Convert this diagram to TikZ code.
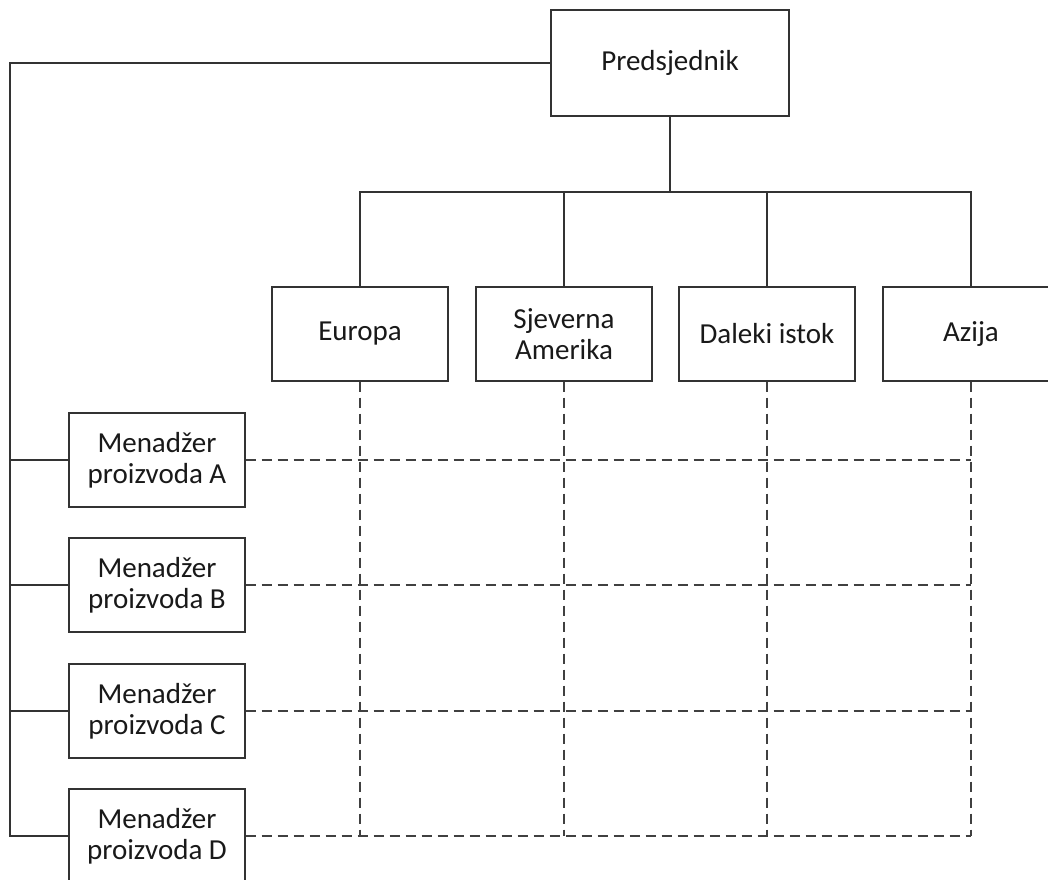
\documentclass[tikz,border=0pt]{standalone}
\usepackage{fontspec}
\setmainfont{Carlito}
\begin{document}
\begin{tikzpicture}[x=1pt,y=-1pt,
  box/.style={draw=black!80,line width=1.3pt,fill=white,rectangle,inner sep=0pt,
    align=center,font=\fontsize{29}{31}\selectfont,text=black!90},
  cbox/.style={box,minimum width=176pt,minimum height=94pt},
  solidline/.style={draw=black!80,line width=1.3pt},
  dashline/.style={draw=black!75,line width=1.5pt,dash pattern=on 10pt off 6pt}]
\useasboundingbox (0,0) rectangle (1048,879);
\clip (0,0) rectangle (1048,879);
% coordinates
\coordinate (ltop) at (10,63);
\coordinate (lbot) at (10,836);
\coordinate (bus) at (670,192);
% nodes
\node[box,minimum width=238pt,minimum height=106pt] (pres) at (670,63) {Predsjednik};
\node[cbox] (eu) at (360,334) {Europa};
\node[cbox] (sa) at (564,334) {Sjeverna\\Amerika};
\node[cbox] (di) at (767,334) {Daleki istok};
\node[cbox] (az) at (971,334) {Azija};
\node[cbox] (ma) at (157,460) {Menadžer\\proizvoda A};
\node[cbox] (mb) at (157,585) {Menadžer\\proizvoda B};
\node[cbox] (mc) at (157,711) {Menadžer\\proizvoda C};
\node[cbox] (md) at (157,836) {Menadžer\\proizvoda D};
% dashed matrix
\foreach \c in {eu,sa,di,az}{
  \draw[dashline] (\c.south) -- (\c.south |- lbot);
}
\foreach \m in {ma,mb,mc,md}{
  \draw[dashline] (\m.east) -- (\m.east -| az.south);
}
% solid connectors
\draw[solidline] (pres.west) -- (ltop) -- (lbot) -- (md.west);
\foreach \m in {ma,mb,mc}{
  \draw[solidline] (\m.west) -- (\m.west -| ltop);
}
\draw[solidline] (pres.south) -- (bus);
\draw[solidline] (eu.north) -- (eu.north |- bus) -- (az.north |- bus) -- (az.north);
\draw[solidline] (sa.north) -- (sa.north |- bus);
\draw[solidline] (di.north) -- (di.north |- bus);
\end{tikzpicture}
\end{document}
